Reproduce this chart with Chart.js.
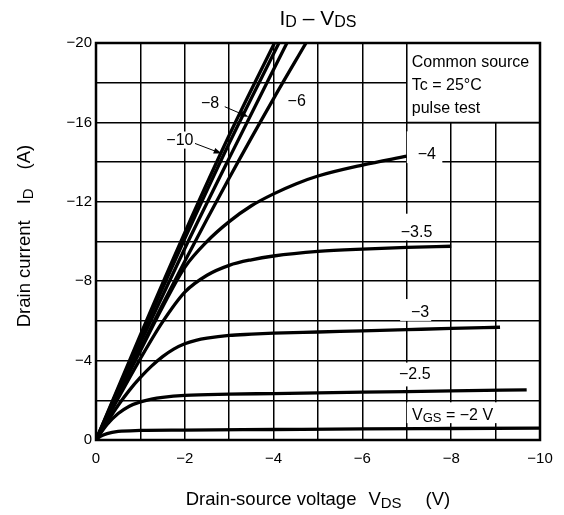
<!DOCTYPE html>
<html>
<head>
<meta charset="utf-8">
<script src="https://cdn.jsdelivr.net/npm/chart.js@4.4.0/dist/chart.umd.min.js"></script>
<style>
  html, body { margin: 0; padding: 0; background: #fff; }
  #wrap { width: 564px; height: 515px; }
</style>
</head>
<body>
<div id="wrap"><canvas id="idVds" width="564" height="515"></canvas></div>
<script>
// I_D - V_DS output curves, one array of [V_DS (V), I_D (A)] per gate voltage
const vgsM10 = [[0, 0], [-1, -5.3], [-2, -10.45], [-3, -15.35], [-4.02, -20]];
const vgsM8 = [[0, 0], [-1, -5.15], [-2, -10.15], [-3, -14.95], [-4.12, -20]];
const vgsM7 = [[0, 0], [-1, -4.9], [-2, -9.65], [-3, -14.2], [-4.3, -20]];
const vgsM6 = [[0, 0], [-1, -4.6], [-2, -9.0], [-3, -13.2], [-4, -17.2], [-4.73, -20]];
const vgsM4 = [[0, 0], [-0.5, -2.3], [-1, -4.5], [-1.5, -6.7], [-2, -8.7], [-2.5, -10.0], [-3, -11.0],
  [-3.5, -11.8], [-4, -12.4], [-4.5, -12.9], [-5, -13.3], [-6, -13.85], [-7, -14.3]];
const vgsM35 = [[0, 0], [-0.5, -2.1], [-1, -4.1], [-1.5, -5.95], [-2, -7.45], [-2.5, -8.3], [-3, -8.8],
  [-3.5, -9.08], [-4, -9.27], [-5, -9.5], [-6, -9.62], [-7, -9.7], [-8, -9.76]];
const vgsM3 = [[0, 0], [-0.25, -0.9], [-0.5, -1.75], [-0.75, -2.5], [-1, -3.15], [-1.25, -3.72], [-1.5, -4.2],
  [-1.75, -4.58], [-2, -4.85], [-2.25, -5.02], [-2.5, -5.13], [-3, -5.27], [-3.5, -5.33], [-4, -5.38],
  [-5, -5.44], [-6, -5.5], [-7, -5.56], [-8, -5.62], [-9.1, -5.68]];
const vgsM25 = [[0, 0], [-0.25, -0.78], [-0.5, -1.33], [-0.75, -1.7], [-1, -1.92], [-1.25, -2.06],
  [-1.5, -2.15], [-2, -2.25], [-3, -2.31], [-4, -2.34], [-6, -2.41], [-8, -2.47], [-9.7, -2.53]];
const vgsM2 = [[0, 0], [-0.1, -0.18], [-0.25, -0.32], [-0.5, -0.43], [-1, -0.48], [-2, -0.5], [-4, -0.53],
  [-6, -0.56], [-8, -0.58], [-10, -0.6]];

const curves = [vgsM10, vgsM8, vgsM7, vgsM6, vgsM4, vgsM35, vgsM3, vgsM25, vgsM2];
const curveNames = ['-10', '-8', '-7', '-6', '-4', '-3.5', '-3', '-2.5', '-2'];

const xTickLabels = [0, -2, -4, -6, -8, -10];
const yTickLabels = [0, -4, -8, -12, -16, -20];

const FONT = '"Liberation Sans", Arial, Helvetica, sans-serif';
const MINUS = '\u2212';

function fmt(v) {
  return v === 0 ? '0' : MINUS + Math.abs(v);
}

// curve tags: text centre and the white patch behind it, in axis units
const tags = [
  { text: MINUS + '10', at: [-1.89, -15.1], patch: [-1.6, -2.2, -14.68, -15.54] },
  { text: MINUS + '8', at: [-2.57, -16.95], patch: [-2.3, -2.85, -16.5, -17.4] },
  { text: MINUS + '6', at: [-4.52, -17.07], patch: [-4.25, -4.8, -16.6, -17.6] },
  { text: MINUS + '4', at: [-7.45, -14.4], patch: [-7.0, -7.8, -13.95, -15.55] },
  { text: MINUS + '3.5', at: [-7.22, -10.45], patch: [-6.73, -7.68, -10.05, -11.4] },
  { text: MINUS + '3', at: [-7.3, -6.42], patch: [-6.85, -7.55, -6.0, -7.1] },
  { text: MINUS + '2.5', at: [-7.18, -3.27], patch: [-6.75, -7.7, -2.7, -3.9] }
];
const vgsTag = { at: [-8.03, -1.3], patch: [-7.0, -9.1, -0.85, -1.9] };
// arrows from tag to curve: [x0, y0, x1, y1]
const arrows = [[-2.23, -14.94, -2.83, -14.43], [-2.9, -16.79, -3.43, -16.28]];
const noteLines = ['Common source', 'Tc = 25\u00B0C', 'pulse test'];

function drawParts(ctx, parts, cx, baseY) {
  parts.forEach(p => {
    if (p.gap) { p.w = p.gap; return; }
    ctx.font = p.size + 'px ' + FONT;
    p.w = ctx.measureText(p.t).width;
  });
  const total = parts.reduce((s, p) => s + p.w, 0);
  let px = cx - total / 2;
  ctx.textAlign = 'left';
  ctx.textBaseline = 'alphabetic';
  parts.forEach(p => {
    if (!p.gap) {
      ctx.font = p.size + 'px ' + FONT;
      ctx.fillText(p.t, px, baseY + (p.dy || 0));
    }
    px += p.w;
  });
}

const overlay = {
  id: 'overlay',
  beforeDatasetsDraw(chart) {
    const { ctx, scales: { x, y } } = chart;
    ctx.save();
    // white patches cut the grid behind the tags
    ctx.fillStyle = '#fff';
    const patches = tags.map(t => t.patch).concat([vgsTag.patch]);
    patches.forEach(p => {
      const x0 = x.getPixelForValue(p[0]), x1 = x.getPixelForValue(p[1]);
      const y0 = y.getPixelForValue(p[2]), y1 = y.getPixelForValue(p[3]);
      ctx.fillRect(Math.min(x0, x1), Math.min(y0, y1), Math.abs(x1 - x0), Math.abs(y1 - y0));
    });
    // note box in the top right corner
    const bx = x.getPixelForValue(-7), rx = x.getPixelForValue(-10);
    const ty = y.getPixelForValue(-20), by = y.getPixelForValue(-16);
    ctx.fillRect(bx, ty, rx - bx, by - ty);
    ctx.strokeStyle = '#000';
    ctx.lineWidth = 1.5;
    ctx.beginPath();
    ctx.moveTo(bx, ty);
    ctx.lineTo(bx, by);
    ctx.lineTo(rx, by);
    ctx.stroke();

    ctx.fillStyle = '#000';
    ctx.font = '16px ' + FONT;
    ctx.textAlign = 'left';
    ctx.textBaseline = 'alphabetic';
    noteLines.forEach((s, i) => ctx.fillText(s, bx + 5, ty + 24 + i * 23));

    tags.forEach(t => {
      ctx.font = '16px ' + FONT;
      ctx.textAlign = 'center';
      ctx.textBaseline = 'middle';
      ctx.fillText(t.text, x.getPixelForValue(t.at[0]), y.getPixelForValue(t.at[1]));
    });
    drawParts(ctx, [
      { t: 'V', size: 16 }, { t: 'GS', size: 13, dy: 2 }, { t: ' = ' + MINUS + '2 V', size: 16 }
    ], x.getPixelForValue(vgsTag.at[0]), y.getPixelForValue(vgsTag.at[1]) + 6);
    ctx.restore();
  },
  afterDraw(chart) {
    const { ctx, chartArea: a, scales: { x, y } } = chart;
    ctx.save();
    ctx.strokeStyle = '#000';
    ctx.fillStyle = '#000';
    ctx.lineWidth = 2.5;
    ctx.strokeRect(a.left, a.top, a.right - a.left, a.bottom - a.top);

    ctx.lineWidth = 1;
    arrows.forEach(r => {
      const x0 = x.getPixelForValue(r[0]), y0 = y.getPixelForValue(r[1]);
      const x1 = x.getPixelForValue(r[2]), y1 = y.getPixelForValue(r[3]);
      const ang = Math.atan2(y1 - y0, x1 - x0);
      ctx.beginPath();
      ctx.moveTo(x0, y0);
      ctx.lineTo(x1 - 6 * Math.cos(ang), y1 - 6 * Math.sin(ang));
      ctx.stroke();
      ctx.beginPath();
      ctx.moveTo(x1, y1);
      ctx.lineTo(x1 - 8 * Math.cos(ang) + 3 * Math.sin(ang), y1 - 8 * Math.sin(ang) - 3 * Math.cos(ang));
      ctx.lineTo(x1 - 8 * Math.cos(ang) - 3 * Math.sin(ang), y1 - 8 * Math.sin(ang) + 3 * Math.cos(ang));
      ctx.closePath();
      ctx.fill();
    });

    // title
    drawParts(ctx, [
      { t: 'I', size: 21 }, { t: 'D', size: 16, dy: 2 }, { t: ' \u2013 ', size: 21 },
      { t: 'V', size: 21 }, { t: 'DS', size: 16, dy: 2 }
    ], (a.left + a.right) / 2, 25);

    // x axis title
    drawParts(ctx, [
      { t: 'Drain-source voltage', size: 18.5 }, { gap: 12 }, { t: 'V', size: 18.5 },
      { t: 'DS', size: 15, dy: 3 }, { gap: 24 }, { t: '(V)', size: 18.5 }
    ], (a.left + a.right) / 2, 505);

    // y axis title
    ctx.translate(30, 236);
    ctx.rotate(-Math.PI / 2);
    drawParts(ctx, [
      { t: 'Drain current', size: 18.5 }, { gap: 16 }, { t: 'I', size: 18.5 },
      { t: 'D', size: 15, dy: 3 }, { gap: 19 }, { t: '(A)', size: 18.5 }
    ], 0, 0);
    ctx.restore();
  }
};

Chart.defaults.font.family = FONT;
Chart.defaults.color = '#000';

new Chart(document.getElementById('idVds'), {
  type: 'line',
  data: {
    datasets: curves.map((c, i) => ({
      label: 'VGS = ' + curveNames[i] + ' V',
      data: c.map(p => ({ x: p[0], y: p[1] })),
      borderColor: '#000',
      borderWidth: 3.3,
      pointRadius: 0,
      fill: false,
      cubicInterpolationMode: 'monotone'
    }))
  },
  options: {
    responsive: false,
    animation: false,
    events: [],
    layout: { padding: { left: 0, right: 24, top: 43, bottom: 0 } },
    plugins: {
      legend: { display: false },
      tooltip: { enabled: false },
      title: { display: false }
    },
    scales: {
      x: {
        type: 'linear',
        min: -10,
        max: 0,
        reverse: true,
        border: { display: false },
        grid: { color: '#000', lineWidth: 1.5, drawTicks: false },
        ticks: {
          stepSize: 1,
          autoSkip: false,
          maxRotation: 0,
          padding: 10,
          font: { size: 15 },
          callback: v => xTickLabels.includes(v) ? fmt(v) : ''
        },
        afterFit: s => { s.height = 75; }
      },
      y: {
        type: 'linear',
        min: -20,
        max: 0,
        reverse: true,
        border: { display: false },
        grid: { color: '#000', lineWidth: 1.5, drawTicks: false },
        ticks: {
          stepSize: 2,
          autoSkip: false,
          padding: 4,
          font: { size: 15 },
          callback: v => yTickLabels.includes(v) ? fmt(v) : ''
        },
        afterFit: s => { s.width = 96; }
      }
    }
  },
  plugins: [overlay]
});
</script>
</body>
</html>
